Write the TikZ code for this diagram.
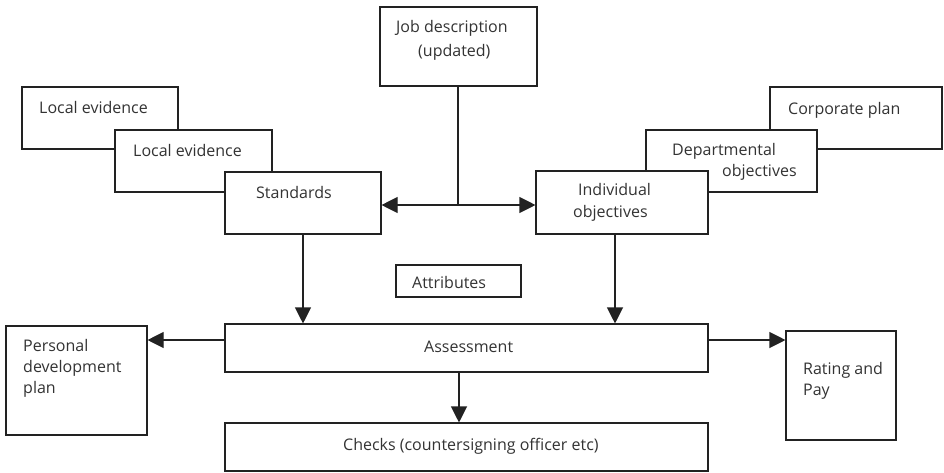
\documentclass[tikz,border=0pt]{standalone}
\usepackage{fontspec}
\setmainfont{Open Sans}
\usetikzlibrary{arrows.meta}
\definecolor{linec}{HTML}{222222}
\definecolor{textc}{HTML}{333333}
\tikzset{
  box/.style={draw=linec, line width=1.1pt, fill=white, rectangle, inner sep=0pt},
  lbl/.style={anchor=base west, inner sep=0pt, text=textc, font=\fontsize{16}{19}\selectfont},
  conn/.style={draw=linec, line width=1.1pt},
  arr/.style={conn, -{Triangle[length=16pt,width=16pt]}}
}
\begin{document}
\begin{tikzpicture}[x=1pt,y=-1pt]
\useasboundingbox (0,0) rectangle (944,472);
% left stack
\node[box, minimum width=156pt, minimum height=62pt] (le1) at (100,118) {};
\node[lbl] (le1t) at (39,113) {Local evidence};
\node[box, minimum width=157pt, minimum height=62pt] (le2) at (193.5,161) {};
\node[lbl] (le2t) at (133,156) {Local evidence};
\node[box, minimum width=156pt, minimum height=62pt] (std) at (303,203) {};
\node[lbl] (stdt) at (256,198) {Standards};
% job description
\node[box, minimum width=157pt, minimum height=79pt] (job) at (458.5,46.5) {};
\node[lbl] (jobt1) at (396,32) {Job description};
\node[lbl] (jobt2) at (418,56) {(updated)};
% right stack
\node[box, minimum width=172pt, minimum height=62pt] (corp) at (856,118) {};
\node[lbl] (corpt) at (788,114) {Corporate plan};
\node[box, minimum width=171pt, minimum height=62pt] (dept) at (731.5,161) {};
\node[lbl] (deptt1) at (672,155) {Departmental};
\node[lbl] (deptt2) at (722,176) {objectives};
\node[box, minimum width=172pt, minimum height=63pt] (ind) at (622,202.5) {};
\node[lbl] (indt1) at (578,195) {Individual};
\node[lbl] (indt2) at (573,217) {objectives};
% attributes
\node[box, minimum width=125pt, minimum height=32pt] (attr) at (458.5,281) {};
\node[lbl] (attrt) at (412,288) {Attributes};
% assessment
\node[box, minimum width=483pt, minimum height=48pt] (ass) at (466.5,348) {};
\node[lbl] (asst) at (424,352) {Assessment};
% personal development plan
\node[box, minimum width=141pt, minimum height=109pt] (pdp) at (76.5,380.5) {};
\node[lbl] (pdpt1) at (23,351) {Personal};
\node[lbl] (pdpt2) at (23,372) {development};
\node[lbl] (pdpt3) at (23,393) {plan};
% rating
\node[box, minimum width=110pt, minimum height=109pt] (rate) at (841,385.5) {};
\node[lbl] (ratet1) at (803,374) {Rating and};
\node[lbl] (ratet2) at (803,395) {Pay};
% checks
\node[box, minimum width=483pt, minimum height=48pt] (chk) at (466.5,447) {};
\node[lbl] (chkt) at (343,450) {Checks (countersigning officer etc)};
% connectors
\coordinate (J) at (458,205);
\draw[conn] (job.south -| J) -- (J);
\draw[arr] (J) -- (J -| std.east);
\draw[arr] (J) -- (J -| ind.west);
\draw[arr] (std.south) -- (std.south |- ass.north);
\draw[arr] ([xshift=-7pt]ind.south) -- ([xshift=-7pt]ind.south |- ass.north);
\draw[arr] ([yshift=8pt]ass.west) -- ([yshift=8pt]ass.west -| pdp.east);
\draw[arr] ([yshift=8pt]ass.east) -- ([yshift=8pt]ass.east -| rate.west);
\draw[arr] ([xshift=-7.5pt]ass.south) -- ([xshift=-7.5pt]ass.south |- chk.north);
\end{tikzpicture}
\end{document}
